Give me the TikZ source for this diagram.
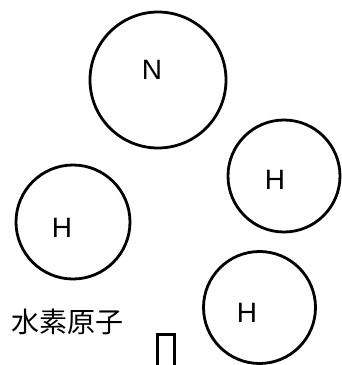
\documentclass[tikz,border=0pt]{standalone}
\usepackage{fontspec}
\setmainfont{Liberation Sans}
\newfontfamily\cjkfont{Noto Sans CJK JP}
\begin{document}
\begin{tikzpicture}[x=1pt,y=-1pt,
  atom/.style={draw=black,line width=2.8pt,circle,inner sep=0pt},
  lbl/.style={inner sep=0pt,font=\fontsize{28}{28}\selectfont}]
\useasboundingbox (0,0) rectangle (341,365);
\node[atom,minimum size=136pt] (Nc) at (158,80) {};
\node[atom,minimum size=112pt] (H1c) at (284,176) {};
\node[atom,minimum size=114pt] (H2c) at (73,222) {};
\node[atom,minimum size=112pt] (H3c) at (259.5,307.5) {};
\node[lbl] (N) at (152,70) {N};
\node[lbl] (H1) at (275,180) {H};
\node[lbl] (H2) at (62,228) {H};
\node[lbl] (H3) at (247,313) {H};
\node[inner sep=0pt,font=\cjkfont\fontsize{28}{28}\selectfont] (cap) at (68,322) {水素原子};
\draw[line width=3pt] (157.5,366) -- (157.5,334.5) -- (174.5,334.5) -- (174.5,366);
\end{tikzpicture}
\end{document}
